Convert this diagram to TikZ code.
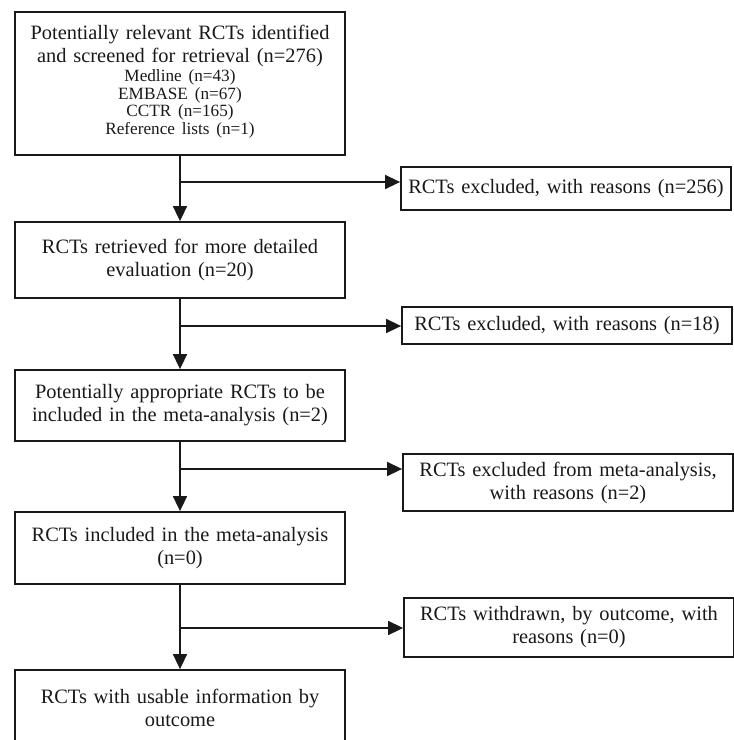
\documentclass[tikz,border=0pt]{standalone}
\usepackage{fontspec}
\setmainfont{Liberation Serif}
\usepackage{xcolor}
\usepackage{tikz}
\usetikzlibrary{arrows.meta}
\definecolor{Scan}{RGB}{25, 25, 25}
\newcommand{\srcfont}{\fontsize{8.6}{8.8}\selectfont}

\begin{document}
\begin{tikzpicture}[x=0.5pt, y=-0.5pt,
  stage/.style={draw=Scan, line width=0.9pt, text=Scan, align=center, text width=160pt, inner sep=2.5pt, font=\fontsize{10.2}{11.5}\selectfont},
  drop/.style={stage},
  flow/.style={draw=Scan, line width=0.8pt, -{Triangle[length=7.5pt, width=7pt]}}]
\clip (0,0) rectangle (734,740);
% left column
\node[stage, minimum height=71.5pt] (found) at (180,83.5) {Potentially relevant RCTs identified\\and screened for retrieval (n=276)\par\vspace{1pt}\srcfont Medline (n=43)\\EMBASE (n=67)\\CCTR (n=165)\\Reference lists (n=1)\par\vspace{2pt}};
\node[stage, minimum height=38pt] (fetched) at (180,260) {RCTs retrieved for more detailed\\evaluation (n=20)};
\node[stage, minimum height=35.5pt] (eligible) at (180,405.5) {Potentially appropriate RCTs to be\\included in the meta-analysis (n=2)};
\node[stage, minimum height=36pt] (pooled) at (180,548) {RCTs included in the meta-analysis\\(n=0)};
\node[stage, minimum height=38pt] (usable) at (180,708) {RCTs with usable information by\\outcome};
% right column
\node[drop, minimum height=21.5pt] (out1) at (566,188.5) {RCTs excluded, with reasons (n=256)};
\node[drop, minimum height=18.5pt] (out2) at (567,325.5) {RCTs excluded, with reasons (n=18)};
\node[drop, minimum height=28.5pt] (out3) at (568,482.5) {RCTs excluded from meta-analysis,\\with reasons (n=2)};
\node[drop, minimum height=29.5pt] (out4) at (569,627.5) {RCTs withdrawn, by outcome, with\\reasons (n=0)};
% branch points on the trunk
\coordinate (j1) at (180,182);
\coordinate (j2) at (180,326);
\coordinate (j3) at (180,469);
\coordinate (j4) at (180,628);
\draw[flow] (found) -- (fetched);
\draw[flow] (fetched) -- (eligible);
\draw[flow] (eligible) -- (pooled);
\draw[flow] (pooled) -- (usable);
\draw[flow] (j1) -- (j1 -| out1.west);
\draw[flow] (j2) -- (j2 -| out2.west);
\draw[flow] (j3) -- (j3 -| out3.west);
\draw[flow] (j4) -- (j4 -| out4.west);
\end{tikzpicture}
\end{document}
